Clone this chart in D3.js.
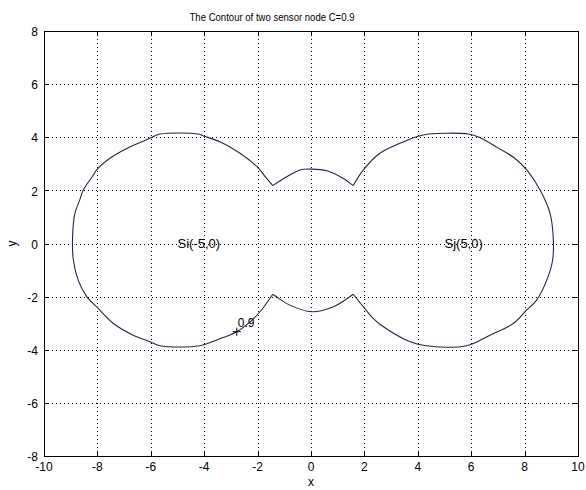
<!DOCTYPE html>
<meta charset="utf-8">
<style>
body { margin: 0; background: #fff; }
svg { font: 12px Arial, "Liberation Sans", sans-serif; }
.grid line { stroke: #000; stroke-dasharray: 1,3; shape-rendering: crispEdges; }
.frame { fill: none; stroke: #000; shape-rendering: crispEdges; }
.tick-mark { stroke: #000; shape-rendering: crispEdges; }
.contour { fill: none; stroke: #222648; stroke-width: 1.1; }
</style>
<body>
<script src="https://d3js.org/d3.v7.min.js"></script>
<script>

var xTicks = [-10, -8, -6, -4, -2, 0, 2, 4, 6, 8, 10],
    yTicks = [-8, -6, -4, -2, 0, 2, 4, 6, 8];

// contour C=0.9 traced round, starting at the far left
var contourX = [-8.93, -8.84, -8.65, -8.53, -8.15, -8.03, -7.53, -6.90, -6.03, -5.66, -4.22, -4.03,
  -3.41, -2.66, -2.03, -1.66, -1.43,
  -0.91, -0.41, 0.03, 0.59, 1.21, 1.58,
  1.96, 2.58, 3.33, 3.96, 4.40, 5.90, 6.30, 7.00, 7.63, 8.08, 8.58, 8.95, 9.07, 9.05, 8.83, 8.45,
  8.08, 7.58, 6.70, 5.83, 4.33, 3.71, 2.58, 2.33, 1.96, 1.58,
  0.84, 0.03, -0.79, -1.43,
  -1.91, -2.28, -2.78, -3.53, -4.16, -5.66, -6.03, -6.66, -7.40, -8.03, -8.40, -8.72, -8.90];
var contourY = [0.26, 1.14, 1.67, 2.01, 2.58, 2.77, 3.21, 3.58, 3.96, 4.12, 4.12, 4.05,
  3.83, 3.40, 2.90, 2.45, 2.18,
  2.51, 2.77, 2.80, 2.74, 2.45, 2.18,
  2.77, 3.40, 3.77, 4.02, 4.12, 4.12, 4.00, 3.60, 3.21, 2.77, 2.01, 1.14, 0.26, -0.62, -1.38, -2.13,
  -2.50, -3.01, -3.45, -3.85, -3.85, -3.70, -3.04, -2.82, -2.38, -1.91,
  -2.38, -2.57, -2.32, -1.91,
  -2.57, -2.95, -3.32, -3.63, -3.85, -3.85, -3.70, -3.45, -3.01, -2.38, -2.00, -1.38, -0.62];
// indexes of the four cusps where the lobes meet
var cusps = [16, 22, 48, 52];

var levelLabel = {x: -2.78, y: -3.32, text: "0.9"};
var nodes = [{x: -5, y: 0, name: "Si(-5,0)"}, {x: 5, y: 0, name: "Sj(5,0)"}];

var width = 586, height = 490,
    mLeft = 44, mRight = 578, mTop = 31, mBottom = 456;

var x = d3.scaleLinear().domain([-10, 10]).range([mLeft, mRight]);
var y = d3.scaleLinear().domain([-8, 8]).range([mBottom, mTop]);

var svg = d3.select("body").append("svg")
    .attr("width", width)
    .attr("height", height);

// dotted grid
var grid = svg.append("g").attr("class", "grid");
grid.selectAll(".gx").data(xTicks.slice(1, -1)).enter().append("line")
    .attr("x1", function(d) { return Math.round(x(d)) + 0.5; })
    .attr("x2", function(d) { return Math.round(x(d)) + 0.5; })
    .attr("y1", mTop).attr("y2", mBottom);
grid.selectAll(".gy").data(yTicks.slice(1, -1)).enter().append("line")
    .attr("y1", function(d) { return Math.round(y(d)) + 0.5; })
    .attr("y2", function(d) { return Math.round(y(d)) + 0.5; })
    .attr("x1", mLeft).attr("x2", mRight);

// inward ticks on all four sides
var tk = 5;
xTicks.forEach(function(d) {
  var px = Math.round(x(d)) + 0.5;
  svg.append("line").attr("class", "tick-mark").attr("x1", px).attr("x2", px).attr("y1", mBottom).attr("y2", mBottom - tk);
  svg.append("line").attr("class", "tick-mark").attr("x1", px).attr("x2", px).attr("y1", mTop).attr("y2", mTop + tk);
});
yTicks.forEach(function(d) {
  var py = Math.round(y(d)) + 0.5;
  svg.append("line").attr("class", "tick-mark").attr("y1", py).attr("y2", py).attr("x1", mLeft).attr("x2", mLeft + tk);
  svg.append("line").attr("class", "tick-mark").attr("y1", py).attr("y2", py).attr("x1", mRight).attr("x2", mRight - tk);
});

svg.append("rect").attr("class", "frame")
    .attr("x", mLeft + 0.5).attr("y", mTop + 0.5)
    .attr("width", mRight - mLeft).attr("height", mBottom - mTop);

// tick labels
svg.selectAll(".xl").data(xTicks).enter().append("text")
    .attr("x", function(d) { return x(d); })
    .attr("y", mBottom + 15)
    .attr("text-anchor", "middle")
    .text(function(d) { return d; });
svg.selectAll(".yl").data(yTicks).enter().append("text")
    .attr("x", mLeft - 6)
    .attr("y", function(d) { return y(d) + 1; })
    .attr("dy", "0.35em")
    .attr("text-anchor", "end")
    .text(function(d) { return d; });

// contour line, smooth between cusps, sharp at them
var pts = contourX.map(function(d, i) { return [d, contourY[i]]; });
var pieces = [
  pts.slice(cusps[0], cusps[1] + 1),
  pts.slice(cusps[1], cusps[2] + 1),
  pts.slice(cusps[2], cusps[3] + 1),
  pts.slice(cusps[3]).concat(pts.slice(0, cusps[0] + 1))
];
var line = d3.line()
    .x(function(d) { return x(d[0]); })
    .y(function(d) { return y(d[1]); })
    .curve(d3.curveCatmullRom.alpha(0.5));
svg.selectAll(".contour").data(pieces).enter().append("path")
    .attr("class", "contour")
    .attr("d", line);

// level label
svg.append("path")
    .attr("d", "M" + (x(levelLabel.x) - 4) + "," + y(levelLabel.y) + "h8M" + x(levelLabel.x) + "," + (y(levelLabel.y) - 4) + "v8")
    .attr("stroke", "#000").attr("fill", "none");
svg.append("text")
    .attr("x", x(levelLabel.x) + 1)
    .attr("y", y(levelLabel.y) - 5)
    .attr("font-size", 12)
    .text(levelLabel.text);

// node labels
svg.selectAll(".node").data(nodes).enter().append("text")
    .attr("x", function(d) { return x(d.x); })
    .attr("y", function(d) { return y(d.y); })
    .attr("dy", "0.35em")
    .attr("font-size", 13)
    .text(function(d) { return d.name; });

// title and axis labels
svg.append("text").attr("x", 272).attr("y", 21)
    .attr("text-anchor", "middle")
    .attr("font-size", 11)
    .attr("textLength", 165)
    .attr("lengthAdjust", "spacingAndGlyphs")
    .text("The Contour of two sensor node C=0.9");
svg.append("text").attr("x", (mLeft + mRight) / 2).attr("y", 486)
    .attr("text-anchor", "middle").text("x");
svg.append("text").attr("transform", "translate(16," + ((mTop + mBottom) / 2) + ") rotate(-90)")
    .attr("text-anchor", "middle").text("y");

</script>
